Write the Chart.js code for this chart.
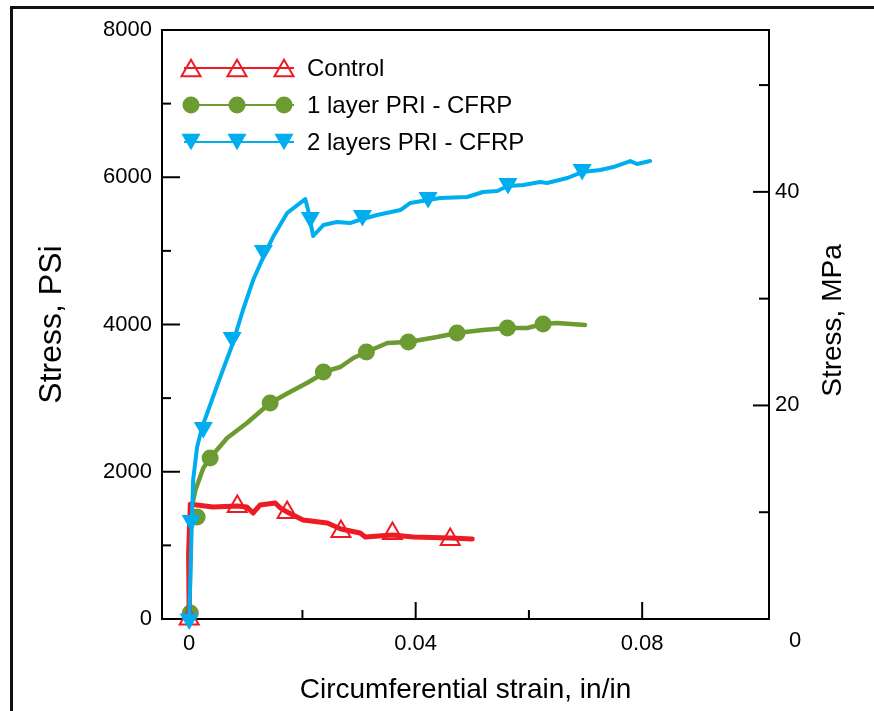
<!DOCTYPE html>
<html>
<head>
<meta charset="utf-8">
<script src="https://cdn.jsdelivr.net/npm/chart.js@4.4.1/dist/chart.umd.min.js"></script>
<style>
  body { margin: 0; background: #fff; }
  #wrap { position: relative; width: 874px; height: 711px; overflow: hidden; background: #fff; }
  #frame { position: absolute; left: 10px; top: 6px; width: 900px; height: 800px; border-left: 3px solid #111; border-top: 3px solid #111; }
  #chart { position: absolute; left: 0; top: 0; }
</style>
</head>
<body>
<div id="wrap">
  <div id="frame"></div>
  <canvas id="chart" width="874" height="711"></canvas>
</div>
<script>
// circumferential strain (in/in) vs stress (psi)
const controlStrain = [0, -0.0001, 0.0002, 0.0014, 0.0042, 0.0085, 0.0102, 0.0113, 0.0125, 0.0152, 0.0161, 0.0173, 0.0201, 0.0244, 0.0268, 0.0302, 0.0311, 0.0359, 0.0396, 0.0461, 0.0500];
const controlStress = [0, 900, 1560, 1548, 1521, 1535, 1521, 1440, 1548, 1575, 1508, 1453, 1345, 1304, 1222, 1168, 1114, 1141, 1114, 1100, 1087];
const controlMarkStrain = [0, 0.0085, 0.0173, 0.0268, 0.0359, 0.0461];
const controlMarkStress = [0, 1528, 1446, 1188, 1161, 1080];

const oneLayerStrain = [0, 0.0002, 0.00035, 0.0011, 0.0025, 0.0037, 0.0067, 0.0102, 0.0143, 0.0178, 0.0208, 0.0226, 0.0237, 0.0267, 0.0290, 0.0313, 0.0350, 0.0387, 0.0438, 0.0473, 0.0519, 0.0562, 0.0597, 0.0625, 0.0650, 0.0699];
const oneLayerStress = [0, 801, 1480, 1752, 2051, 2187, 2458, 2662, 2934, 3083, 3205, 3287, 3355, 3423, 3545, 3626, 3749, 3762, 3830, 3884, 3925, 3952, 3952, 4007, 4020, 3993];
const oneLayerMarkStrain = [0.0002, 0.0014, 0.0037, 0.0143, 0.0237, 0.0313, 0.0387, 0.0473, 0.0562, 0.0625];
const oneLayerMarkStress = [81, 1385, 2187, 2934, 3355, 3626, 3762, 3884, 3952, 4007];

const twoLayerStrain = [0, 0.0002, 0.00035, 0.0005, 0.0007, 0.0014, 0.0023, 0.0037, 0.0051, 0.0076, 0.0095, 0.0113, 0.0131, 0.0148, 0.0173, 0.0205, 0.0210, 0.0219, 0.0237, 0.0261, 0.0284, 0.0306, 0.0332, 0.0373, 0.0390, 0.0422, 0.0443, 0.0491, 0.0519, 0.0544, 0.0563, 0.0590, 0.0620, 0.0632, 0.0668, 0.0694, 0.0726, 0.0749, 0.0779, 0.0791, 0.0814];
const twoLayerStress = [0, 530, 978, 1385, 1888, 2336, 2608, 2907, 3205, 3721, 4197, 4604, 4917, 5188, 5514, 5704, 5555, 5202, 5351, 5392, 5378, 5433, 5487, 5555, 5650, 5691, 5718, 5732, 5800, 5813, 5881, 5895, 5935, 5922, 5990, 6071, 6098, 6139, 6220, 6180, 6220];
const twoLayerMarkStrain = [0, 0.00035, 0.0025, 0.0076, 0.0131, 0.0214, 0.0306, 0.0422, 0.0563, 0.0694];
const twoLayerMarkStress = [0, 1338, 2601, 3823, 5005, 5453, 5480, 5725, 5915, 6105];

const seriesNames = ['Control', '1 layer PRI - CFRP', '2 layers PRI - CFRP'];

// axis ticks
const psiTicks = [0, 2000, 4000, 6000, 8000];
const psiMinor = [1000, 3000, 5000, 7000];
const mpaTicks = [0, 10, 20, 30, 40, 50];
const mpaLabels = [20, 40];
const mpaMinor = [10, 30, 50];
const strainTicks = [0, 0.02, 0.04, 0.06, 0.08, 0.1];
const strainLabels = [0, 0.04, 0.08];
const strainMinor = [0.02, 0.06];

const PSI_PER_MPA = 145.038;
const RED = '#ed1c24', GREEN = '#6b9b31', BLUE = '#00aeef';
const FONT = 'Liberation Sans, Arial, Helvetica, sans-serif';
const TRI = 11;

const pts = (xs, ys) => xs.map((x, i) => ({ x, y: ys[i] }));

const series = [
  { name: seriesNames[0], color: RED, style: 'up', fill: false },
  { name: seriesNames[1], color: GREEN, style: 'circle', fill: true },
  { name: seriesNames[2], color: BLUE, style: 'down', fill: true },
];

function mark(ctx, s, x, y) {
  ctx.beginPath();
  if (s.style === 'circle') {
    ctx.arc(x, y, 8.5, 0, Math.PI * 2);
  } else {
    const d = s.style === 'down' ? -1 : 1;
    const c = y + d * TRI / 4;
    ctx.moveTo(x, c - d * TRI);
    ctx.lineTo(x + TRI * 0.866, c + d * TRI / 2);
    ctx.lineTo(x - TRI * 0.866, c + d * TRI / 2);
    ctx.closePath();
  }
  if (s.fill) { ctx.fillStyle = s.color; ctx.fill(); }
  else { ctx.strokeStyle = s.color; ctx.lineWidth = 2; ctx.stroke(); }
}

const boxAndTicks = {
  id: 'boxAndTicks',
  beforeDatasetsDraw(chart) {
    const { ctx, chartArea: a, scales } = chart;
    ctx.save();
    ctx.strokeStyle = '#000';
    ctx.lineWidth = 2;
    ctx.strokeRect(a.left, a.top, a.right - a.left, a.bottom - a.top);
    const tick = (scale, vals, len) => vals.forEach(v => {
      const p = scale.getPixelForValue(v);
      ctx.beginPath();
      if (scale.id === 'x') { ctx.moveTo(p, a.bottom); ctx.lineTo(p, a.bottom - len); }
      else if (scale.id === 'y') { ctx.moveTo(a.left, p); ctx.lineTo(a.left + len, p); }
      else { ctx.moveTo(a.right, p); ctx.lineTo(a.right - len, p); }
      ctx.stroke();
    });
    tick(scales.x, strainLabels, 17);
    tick(scales.x, strainMinor, 9);
    tick(scales.y, psiTicks, 18);
    tick(scales.y, psiMinor, 9);
    tick(scales.y2, mpaLabels, 16);
    tick(scales.y2, mpaMinor, 10);
    ctx.restore();
  },
  afterDraw(chart) {
    const { ctx, chartArea: a, scales } = chart;
    ctx.save();
    ctx.fillStyle = '#000';
    // right axis title, reads bottom to top
    ctx.font = '28px ' + FONT;
    ctx.textAlign = 'center';
    ctx.textBaseline = 'middle';
    ctx.translate(scales.y2.right - 41, (a.top + a.bottom) / 2 - 4);
    ctx.rotate(-Math.PI / 2);
    ctx.fillText('Stress, MPa', 0, 0);
    ctx.restore();

    // right axis zero, set below the axis like the original
    ctx.save();
    ctx.font = '22px ' + FONT;
    ctx.textAlign = 'center';
    ctx.textBaseline = 'middle';
    ctx.fillStyle = '#000';
    ctx.fillText('0', scales.y2.left + 26, scales.y2.getPixelForValue(0) + 22);

    // legend: a short line with three markers per series
    ctx.font = '24px ' + FONT;
    ctx.textAlign = 'left';
    series.forEach((s, i) => {
      const y = a.top + 38 + i * 37;
      ctx.strokeStyle = s.color;
      ctx.lineWidth = 2;
      ctx.beginPath();
      ctx.moveTo(a.left + 22, y);
      ctx.lineTo(a.left + 132, y);
      ctx.stroke();
      [29, 75, 122].forEach(dx => mark(ctx, s, a.left + dx, y));
      ctx.fillStyle = '#000';
      ctx.fillText(s.name, a.left + 145, y + 1);
    });
    ctx.restore();
  }
};

const lineStyle = (color, width) => ({
  borderColor: color, borderWidth: width, pointRadius: 0, tension: 0,
  borderJoinStyle: 'round', borderCapStyle: 'round', fill: false, yAxisID: 'y'
});

new Chart(document.getElementById('chart'), {
  type: 'scatter',
  data: {
    datasets: [
      { label: seriesNames[2], data: pts(twoLayerMarkStrain, twoLayerMarkStress), showLine: false,
        pointStyle: 'triangle', pointRotation: 180, pointRadius: TRI, pointBackgroundColor: BLUE,
        pointBorderWidth: 0, clip: false, order: 1 },
      { label: seriesNames[2], data: pts(twoLayerStrain, twoLayerStress), showLine: true, ...lineStyle(BLUE, 4), order: 2 },
      { label: seriesNames[0], data: pts(controlMarkStrain, controlMarkStress), showLine: false,
        pointStyle: 'triangle', pointRadius: TRI, pointBackgroundColor: 'rgba(0,0,0,0)',
        pointBorderColor: RED, pointBorderWidth: 2, clip: false, order: 3 },
      { label: seriesNames[0], data: pts(controlStrain, controlStress), showLine: true, ...lineStyle(RED, 5), order: 4 },
      { label: seriesNames[1], data: pts(oneLayerMarkStrain, oneLayerMarkStress), showLine: false,
        pointStyle: 'circle', pointRadius: 8.5, pointBackgroundColor: GREEN,
        pointBorderWidth: 0, clip: false, order: 5 },
      { label: seriesNames[1], data: pts(oneLayerStrain, oneLayerStress), showLine: true, ...lineStyle(GREEN, 4.5), order: 6 },
    ]
  },
  options: {
    responsive: false,
    animation: false,
    events: [],
    layout: { padding: { top: 30, left: 0, right: 0, bottom: 0 } },
    plugins: { legend: { display: false }, tooltip: { enabled: false } },
    scales: {
      x: {
        type: 'linear', min: -0.0048, max: 0.1024,
        afterBuildTicks: s => { s.ticks = strainTicks.map(v => ({ value: v })); },
        afterFit: s => { s.height = 92; },
        grid: { display: false, drawTicks: false },
        border: { display: false },
        ticks: {
          autoSkip: false, maxRotation: 0, padding: 12, color: '#000',
          font: { family: FONT, size: 22 },
          callback: v => strainLabels.some(l => Math.abs(l - v) < 1e-9) ? (v === 0 ? '0' : v.toFixed(2)) : ''
        },
        title: {
          display: true, text: 'Circumferential strain, in/in', color: '#000',
          font: { family: FONT, size: 28, lineHeight: 1.2 }, padding: { top: 0, bottom: 4 }
        }
      },
      y: {
        type: 'linear', position: 'left', min: 0, max: 8000,
        afterBuildTicks: s => { s.ticks = psiTicks.map(v => ({ value: v })); },
        afterFit: s => { s.width = 162; },
        grid: { display: false, drawTicks: false },
        border: { display: false },
        ticks: { padding: 10, color: '#000', font: { family: FONT, size: 22 }, callback: v => String(v) },
        title: {
          display: true, text: 'Stress, PSi', color: '#000',
          font: { family: FONT, size: 32, lineHeight: 1.2 }, padding: { top: 33, bottom: 0 }
        }
      },
      y2: {
        type: 'linear', position: 'right', min: 0, max: 8000 / PSI_PER_MPA,
        afterBuildTicks: s => { s.ticks = mpaTicks.map(v => ({ value: v })); },
        afterFit: s => { s.width = 105; },
        grid: { display: false, drawTicks: false },
        border: { display: false },
        ticks: {
          padding: 6, color: '#000', font: { family: FONT, size: 22 },
          callback: v => mpaLabels.includes(v) ? String(v) : ''
        }
      }
    }
  },
  plugins: [boxAndTicks]
});
</script>
</body>
</html>
